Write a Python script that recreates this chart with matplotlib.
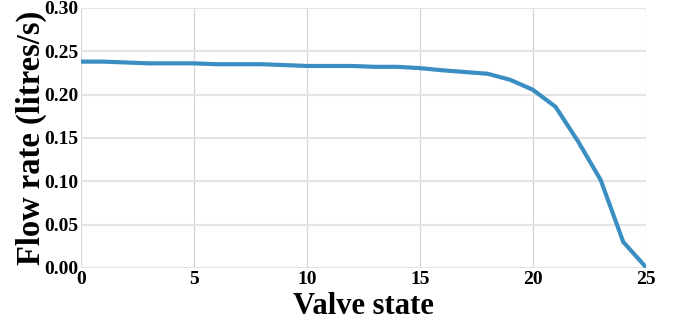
import matplotlib
matplotlib.use("Agg")
import matplotlib.pyplot as plt

valve_state = list(range(26))
flow_rate = [0.238, 0.238, 0.237, 0.236, 0.236, 0.236, 0.235, 0.235, 0.235, 0.234,
             0.233, 0.233, 0.233, 0.232, 0.232, 0.2305, 0.228, 0.226, 0.224, 0.217,
             0.2055, 0.186, 0.146, 0.1015, 0.030, 0.001]
x_ticks = [0, 5, 10, 15, 20, 25]
y_ticks = [0.00, 0.05, 0.10, 0.15, 0.20, 0.25, 0.30]

plt.rcParams['font.family'] = ['Liberation Serif', 'DejaVu Serif']
fig = plt.figure(figsize=(6.77, 3.28), dpi=100)
ax = fig.add_axes([0.1196, 0.183, 0.8344, 0.793])
ax.plot(valve_state, flow_rate, color='#3a8ec2', linewidth=3.0, solid_capstyle='round', zorder=3)
ax.set_xlim(0, 25)
ax.set_ylim(0, 0.30)
ax.set_xticks(x_ticks)
ax.set_yticks(y_ticks)
ax.set_yticklabels([f"{v:.2f}" for v in y_ticks])
for s in ax.spines.values():
    s.set_visible(False)
ax.yaxis.grid(True, color='#e4e4e4', linewidth=1.5)
ax.xaxis.grid(True, color='#d6d6d6', linewidth=0.9)
ax.set_axisbelow(True)
ax.tick_params(length=0, pad=2, labelsize=14)
for lab in ax.get_xticklabels() + ax.get_yticklabels():
    lab.set_fontweight('bold')
ax.set_xlabel('Valve state', fontsize=22, fontweight='bold', labelpad=3)
ax.set_ylabel('Flow rate (litres/s)', fontsize=23.5, fontweight='bold', labelpad=-2)
fig.savefig('out.png', dpi=100)
